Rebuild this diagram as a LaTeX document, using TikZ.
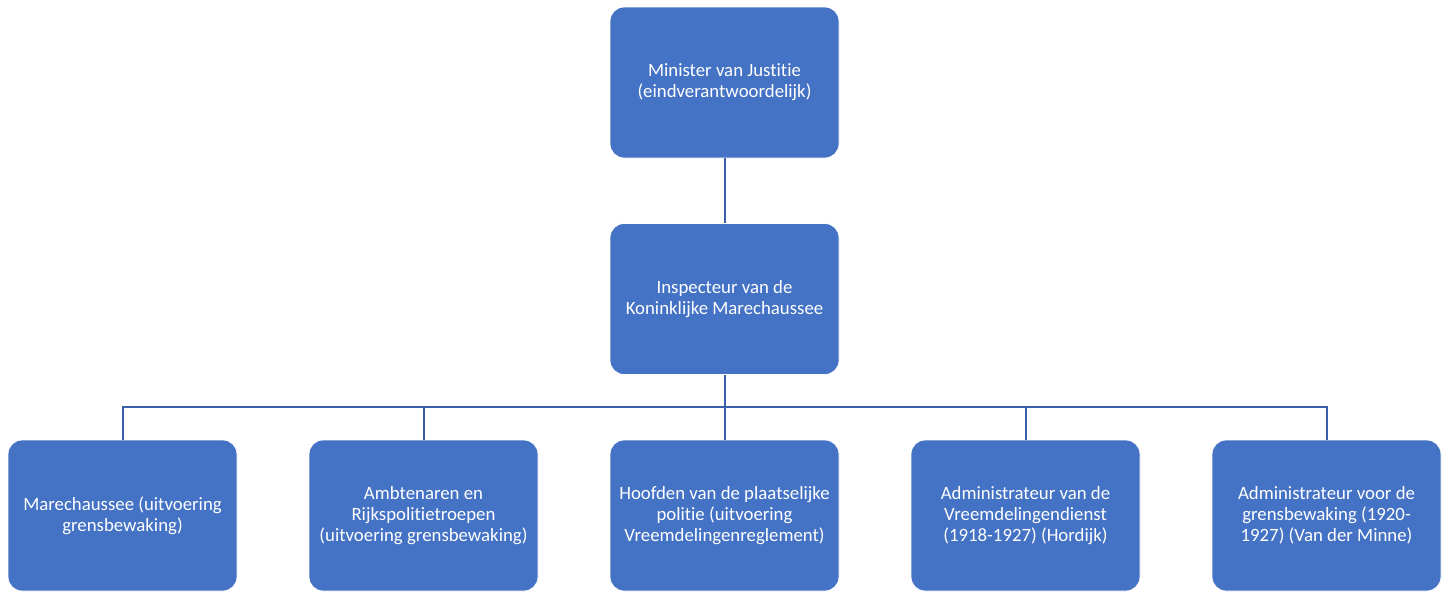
\documentclass[tikz,border=0pt]{standalone}
\usepackage{fontspec}
\setmainfont{Carlito}[Ligatures=NoCommon]
\definecolor{boxblue}{HTML}{4472C4}
\definecolor{lineblue}{HTML}{3A5FA8}
\begin{document}
\begin{tikzpicture}[x=1pt,y=-1pt,
  orgbox/.style={draw=white,line width=0.8pt,fill=boxblue,rounded corners=14pt,
    minimum width=229pt,minimum height=151pt,inner sep=0pt,text=white,align=center,
    font=\fontsize{18.8}{21}\selectfont},
  conn/.style={draw=lineblue,line width=2pt}]
\useasboundingbox (0,0) rectangle (1448,592);
\node[orgbox] (top) at (724.5,82.5) {Minister van Justitie\\(eindverantwoordelijk)};
\node[orgbox] (mid) at (724.5,299) {Inspecteur van de\\Koninklijke Marechaussee};
\node[orgbox] (b1) at (122.5,515.5) {Marechaussee (uitvoering\\grensbewaking)};
\node[orgbox] (b2) at (423.5,515.5) {Ambtenaren en\\Rijkspolitietroepen\\(uitvoering grensbewaking)};
\node[orgbox] (b3) at (724.5,515.5) {Hoofden van de plaatselijke\\politie (uitvoering\\Vreemdelingenreglement)};
\node[orgbox] (b4) at (1025.5,515.5) {Administrateur van de\\Vreemdelingendienst\\(1918-1927) (Hordijk)};
\node[orgbox] (b5) at (1326.5,515.5) {Administrateur voor de\\grensbewaking (1920-\\1927) (Van der Minne)};
\coordinate (bus) at (724.5,407);
\draw[conn] (top.south) -- (mid.south |- mid.north);
\draw[conn] (mid.south) -- (bus);
\foreach \b in {b1,b2,b3,b4,b5}{\draw[conn] (bus) -| (\b.north);}
\end{tikzpicture}
\end{document}
